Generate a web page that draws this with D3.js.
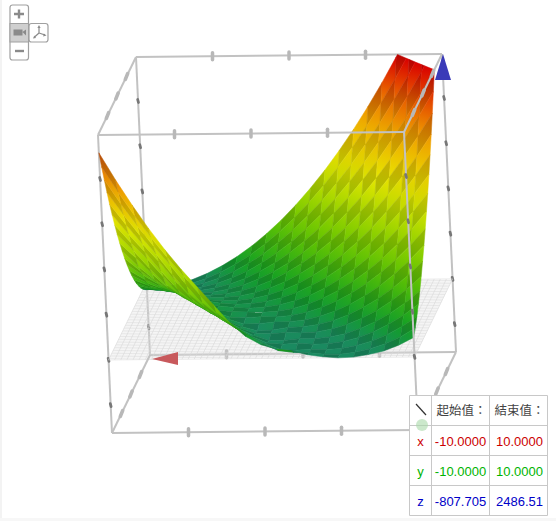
<!DOCTYPE html>
<html>
<head>
<meta charset="utf-8">
<script src="https://cdn.jsdelivr.net/npm/d3@7"></script>
<style>
html,body{margin:0;padding:0;background:#fff;}
svg{display:block;}
text{font-family:"Liberation Sans",Arial,sans-serif;}
</style>
</head>
<body>
<div id="chart"></div>
<script>
// axis ranges shown in the table
const xRange = [-10, 10];
const yRange = [-10, 10];
const zRange = [-807.705, 2486.51];
const xTicks = [-5, 0, 5];
const yTicks = [-5, 0, 5];
const zTicks = [-500, 0, 500, 1000, 1500, 2000];

const tableHead = ["起始值：", "結束值："];
const tableRows = [
  ["x", "-10.0000", "10.0000", "#cc0000"],
  ["y", "-10.0000", "10.0000", "#00b400"],
  ["z", "-807.705", "2486.51", "#0000c8"]
];

// z, one row per y step, back to front
const surfaceZ = [
  [-82,-64,-30,21,88,172,272,388,521,671,837,1020,1218,1434,1666,1914,2179,2460,2758,3072,3403],
  [-42,-38,-18,19,72,142,228,330,449,585,737,905,1090,1292,1510,1744,1995,2262,2546,2847,3163],
  [7,-4,2,25,64,119,191,280,385,506,644,799,970,1157,1361,1582,1819,2072,2342,2629,2932],
  [64,39,30,38,63,104,162,236,327,434,558,699,856,1030,1220,1427,1650,1890,2146,2419,2709],
  [129,89,66,60,70,97,140,200,277,370,480,607,750,910,1086,1279,1489,1715,1958,2218,2494],
  [202,148,110,89,84,97,126,171,234,313,409,522,651,797,960,1139,1335,1548,1778,2024,2287],
  [284,214,161,125,106,104,119,150,198,263,345,444,559,691,841,1007,1189,1389,1605,1839,2089],
  [374,289,221,170,136,119,119,136,170,221,288,373,475,593,729,882,1051,1238,1441,1661,1899],
  [472,371,288,222,173,141,127,129,149,185,239,310,398,503,625,764,920,1094,1284,1492,1717],
  [578,462,363,282,218,171,142,130,135,157,197,254,328,419,528,654,797,958,1135,1331,1543],
  [692,551,427,330,251,189,155,138,128,136,162,205,265,343,439,551,682,829,995,1177,1377],
  [815,647,498,385,291,214,155,133,129,123,134,163,210,275,357,456,574,709,862,1032,1220],
  [946,782,606,448,338,246,172,116,107,117,114,129,162,213,282,369,473,596,736,895,1071],
  [1085,905,708,529,404,296,207,136,82,83,101,102,121,159,215,289,381,491,619,766,930],
  [1233,1036,858,658,477,354,249,163,95,46,55,82,88,112,155,216,296,393,510,644,798],
  [1388,1175,980,764,567,429,309,208,125,61,56,70,62,73,103,151,218,304,408,531,673],
  [1552,1322,1111,918,705,511,376,260,162,84,25,25,43,41,58,93,148,222,315,426,557],
  [1724,1477,1249,1040,811,601,450,319,207,114,41,26,36,22,27,50,93,155,234,333,452],
  [1905,1640,1395,1170,964,743,542,395,268,161,74,11,2,11,5,16,46,96,163,251,358],
  [2093,1811,1549,1307,1085,883,671,479,338,216,119,42,21,14,-3,-4,14,53,106,180,278],
  [2290,1990,1711,1452,1214,996,798,601,404,248,152,101,81,36,12,-2,5,32,69,132,215]
];

const width = 556, height = 521;

const svg = d3.select("#chart").append("svg")
  .attr("width", width)
  .attr("height", height);
const defs = svg.append("defs");

// faint page edge
svg.append("rect").attr("width", 2).attr("height", height).attr("fill", "#f3f3f3");
svg.append("rect").attr("y", height - 3).attr("width", width).attr("height", 3).attr("fill", "#f7f7f7");

// box fractions
const fx = d3.scaleLinear().domain(xRange).range([0, 1]);
const fy = d3.scaleLinear().domain(yRange).range([0, 1]);
const fz = d3.scaleLinear().domain(zRange).range([0, 1]);

// oblique view of the box
const origin = [150, 355];
const xVec = [306, -3];
const yVec = [-38, 78];
const zVec = [-14, -298];

function project(x, y, z) {
  const u = fx(x), v = fy(y), w = fz(z);
  return [
    origin[0] + u * xVec[0] + v * yVec[0] + w * zVec[0],
    origin[1] + u * xVec[1] + v * yVec[1] + w * zVec[1]
  ];
}
// toward the viewer
function depth(x, y, z) {
  return 0.533 * fx(x) + 3.92 * fy(y) + fz(z);
}

const line = d3.line();
const [x0, x1] = xRange, [y0, y1] = yRange, [z0, z1] = zRange;

function edge(g, a, b) {
  g.append("path")
    .attr("d", line([project(...a), project(...b)]))
    .attr("stroke", "#c2c2c2")
    .attr("stroke-width", 2)
    .attr("fill", "none");
}

function tick(g, p, dx, dy, stroke, w) {
  const c = project(...p);
  g.append("path")
    .attr("d", line([[c[0] - dx, c[1] - dy], [c[0] + dx, c[1] + dy]]))
    .attr("stroke", stroke)
    .attr("stroke-width", w)
    .attr("stroke-linecap", "round");
}

function edgeTicks(g, corner, axis) {
  // corner gives the fixed coordinates
  if (axis === "x") xTicks.forEach(t => tick(g, [t, corner[1], corner[2]], 0, 3.5, "#b8b8b8", 3.5));
  if (axis === "y") yTicks.forEach(t => tick(g, [corner[0], t, corner[2]], 1.2, -3, "#b8b8b8", 3.5));
  if (axis === "z") zTicks.forEach(t => tick(g, [corner[0], corner[1], t], 0.4, 1.5, "#777", 2.8));
}

// back parts of the box
const back = svg.append("g").attr("class", "box-back");
edge(back, [x0, y0, z1], [x1, y0, z1]);
edge(back, [x0, y0, z1], [x0, y1, z1]);
edge(back, [x0, y0, z0], [x0, y0, z1]);
edge(back, [x1, y0, z0], [x1, y0, z1]);
edge(back, [x0, y0, z0], [x1, y0, z0]);
edge(back, [x0, y1, z0], [x0, y1, z1]);
edgeTicks(back, [0, y0, z1], "x");
edgeTicks(back, [x0, 0, z1], "y");
edgeTicks(back, [x0, y0, 0], "z");
edgeTicks(back, [x1, y0, 0], "z");
edgeTicks(back, [0, y0, z0], "x");
edgeTicks(back, [x0, y1, 0], "z");

// grey mesh at z = 0
const plane = svg.append("g").attr("class", "plane");
d3.range(-10, 10.01, 0.4).forEach(t => {
  plane.append("path").attr("d", line([project(t, y0, 0), project(t, y1, 0)]));
  plane.append("path").attr("d", line([project(x0, t, 0), project(x1, t, 0)]));
});
plane.selectAll("path")
  .attr("fill", "none")
  .attr("stroke", "#d6d6d6")
  .attr("stroke-width", 0.6);

// height colours, top side and underside of the sheet
const heatTop = d3.scaleLinear()
  .domain([60, 260, 650, 1350, 1950, 2450])
  .range(["#1a8a60", "#12a024", "#62c400", "#e8e800", "#f09000", "#d80000"])
  .clamp(true);
const heatUnder = d3.scaleLinear()
  .domain([0, 250, 750, 1350, 1950, 2450])
  .range(["#0c8c1c", "#34b010", "#98d400", "#e8e800", "#f09000", "#c83c10"])
  .clamp(true);

// keep the part of a cell under the box top
function clipTop(pts) {
  const out = [];
  pts.forEach((a, k) => {
    const b = pts[(k + 1) % pts.length];
    const ai = a[2] <= z1, bi = b[2] <= z1;
    if (ai) out.push(a);
    if (ai !== bi) {
      const t = (z1 - a[2]) / (b[2] - a[2]);
      out.push([a[0] + t * (b[0] - a[0]), a[1] + t * (b[1] - a[1]), z1]);
    }
  });
  return out;
}

const gx = d3.scaleLinear().domain([0, surfaceZ[0].length - 1]).range(xRange);
const gy = d3.scaleLinear().domain([0, surfaceZ.length - 1]).range(yRange);
const cells = [];
surfaceZ.slice(1).forEach((row, j) => {
  row.slice(1).forEach((_, i) => {
    const pts = clipTop([
      [gx(i), gy(j), surfaceZ[j][i]],
      [gx(i + 1), gy(j), surfaceZ[j][i + 1]],
      [gx(i + 1), gy(j + 1), surfaceZ[j + 1][i + 1]],
      [gx(i), gy(j + 1), surfaceZ[j + 1][i]]
    ]);
    if (pts.length < 3) return;
    const screen = pts.map(p => project(p[0], p[1], p[2]));
    cells.push({
      id: `cell-${j}-${i}`,
      pts,
      screen,
      under: d3.polygonArea(screen) > 0,
      odd: (i + j) % 2 === 1,
      d: d3.mean(pts, p => depth(p[0], p[1], p[2]))
    });
  });
});
cells.sort((a, b) => a.d - b.d);

// each cell fades with height from its lowest to its highest corner
cells.forEach(c => {
  const lo = d3.least(c.pts, p => p[2]);
  const hi = d3.greatest(c.pts, p => p[2]);
  const a = project(lo[0], lo[1], lo[2]), b = project(hi[0], hi[1], hi[2]);
  const heat = c.under ? heatUnder : heatTop;
  const shade = z => c.odd ? d3.color(heat(z)).darker(0.42) : heat(z);
  const grad = defs.append("linearGradient")
    .attr("id", c.id)
    .attr("gradientUnits", "userSpaceOnUse")
    .attr("x1", a[0]).attr("y1", a[1])
    .attr("x2", b[0]).attr("y2", b[1]);
  grad.append("stop").attr("offset", 0).attr("stop-color", shade(lo[2]));
  grad.append("stop").attr("offset", 1).attr("stop-color", shade(hi[2]));
});

svg.append("g").attr("class", "surface")
  .selectAll("path")
  .data(cells)
  .join("path")
  .attr("d", c => line(c.screen) + "Z")
  .attr("fill", c => `url(#${c.id})`)
  .attr("stroke", c => `url(#${c.id})`)
  .attr("stroke-width", 0.5);

// front parts of the box, they stay on top of the surface
const front = svg.append("g").attr("class", "box-front");
edge(front, [x0, y1, z1], [x1, y1, z1]);
edge(front, [x1, y0, z1], [x1, y1, z1]);
edge(front, [x1, y1, z0], [x1, y1, z1]);
edge(front, [x0, y1, z0], [x1, y1, z0]);
edge(front, [x0, y0, z0], [x0, y1, z0]);
edge(front, [x1, y0, z0], [x1, y1, z0]);
edgeTicks(front, [0, y1, z1], "x");
edgeTicks(front, [x1, 0, z1], "y");
edgeTicks(front, [x1, y1, 0], "z");
edgeTicks(front, [0, y1, z0], "x");
edgeTicks(front, [x0, 0, z0], "y");
edgeTicks(front, [x1, 0, z0], "y");

// axis arrows
const arrows = svg.append("g").attr("class", "arrows");
const xTip = project(x0, y0, z0);
arrows.append("path")
  .attr("d", line([[xTip[0] + 2, xTip[1] + 4], [xTip[0] + 28, xTip[1] - 3], [xTip[0] + 28, xTip[1] + 10]]) + "Z")
  .attr("fill", "#c8595c");
const zTip = project(x1, y0, z1);
arrows.append("path")
  .attr("d", line([[zTip[0] + 1, zTip[1]], [zTip[0] + 9, zTip[1] + 26], [zTip[0] - 7, zTip[1] + 26]]) + "Z")
  .attr("fill", "#3a3ab8");

// range table
const colX = [409.5, 431.5, 489.5, 547.5];
const rowY = [395.5, 425.5, 455.5, 485.5, 515.5];
const table = svg.append("g").attr("class", "range-table");
table.append("rect")
  .attr("x", colX[0]).attr("y", rowY[0])
  .attr("width", colX[3] - colX[0]).attr("height", rowY[4] - rowY[0])
  .attr("fill", "#fff");
colX.forEach(x => table.append("path").attr("d", line([[x, rowY[0]], [x, rowY[4]]])));
rowY.forEach(y => table.append("path").attr("d", line([[colX[0], y], [colX[3], y]])));
table.selectAll("path").attr("stroke", "#c8c8c8").attr("stroke-width", 1).attr("fill", "none");

tableHead.forEach((t, k) => {
  table.append("text")
    .attr("x", (colX[k + 1] + colX[k + 2]) / 2 + 1)
    .attr("y", rowY[0] + 19)
    .attr("text-anchor", "middle")
    .attr("font-size", 12.5)
    .attr("fill", "#444")
    .style("font-family", "'Noto Sans CJK TC','Noto Sans CJK SC',sans-serif")
    .text(t);
});
tableRows.forEach((r, k) => {
  const y = rowY[k + 1] + 20;
  table.append("text").attr("x", (colX[0] + colX[1]) / 2).attr("y", y)
    .attr("text-anchor", "middle").attr("font-size", 13).attr("fill", r[3]).text(r[0]);
  table.append("text").attr("x", (colX[1] + colX[2]) / 2).attr("y", y)
    .attr("text-anchor", "middle").attr("font-size", 13).attr("fill", r[3]).text(r[1]);
  table.append("text").attr("x", (colX[2] + colX[3]) / 2 + 1).attr("y", y)
    .attr("text-anchor", "middle").attr("font-size", 13).attr("fill", r[3]).text(r[2]);
});

// the little slider in the table corner
table.append("path").attr("d", line([[416, 404], [426, 415]]))
  .attr("stroke", "#333").attr("stroke-width", 1.2);
table.append("circle").attr("cx", 422).attr("cy", 425).attr("r", 6)
  .attr("fill", "#a8d8a8").attr("opacity", 0.6);

// zoom and camera buttons
const ui = svg.append("g").attr("class", "controls");
ui.append("rect").attr("x", 29).attr("y", 23.5).attr("width", 19).attr("height", 18.5).attr("rx", 2.5)
  .attr("fill", "#fff").attr("stroke", "#a0a0a0").attr("stroke-width", 1.2);
ui.append("rect").attr("x", 10).attr("y", 5).attr("width", 18.5).attr("height", 55).attr("rx", 2.5)
  .attr("fill", "#fff").attr("stroke", "#a0a0a0").attr("stroke-width", 1.2);
ui.append("rect").attr("x", 10).attr("y", 23.5).attr("width", 18.5).attr("height", 18.5)
  .attr("fill", "#cfcfcf").attr("stroke", "#a0a0a0").attr("stroke-width", 1);
ui.append("path").attr("d", "M14 14H24M19 9.5V18.5").attr("stroke", "#8a8a8a").attr("stroke-width", 2.4).attr("fill", "none");
ui.append("path").attr("d", "M15 51H24").attr("stroke", "#8a8a8a").attr("stroke-width", 2.4).attr("fill", "none");
ui.append("path").attr("d", "M13.5 29.5H22.5V35.5H13.5ZM22.5 32L26 29.5V35.5Z").attr("fill", "#8a8a8a");
ui.append("path").attr("d", "M39 33V27M39 33L34 37.5M39 33L45 35").attr("stroke", "#8a8a8a").attr("stroke-width", 1.2).attr("fill", "none");
ui.append("path").attr("d", "M39 25L37.4 28H40.6ZM33 38.5L36 38L34.4 35.6ZM46.5 35.5L43.8 33.6L43.2 36.4Z").attr("fill", "#8a8a8a");
</script>
</body>
</html>
